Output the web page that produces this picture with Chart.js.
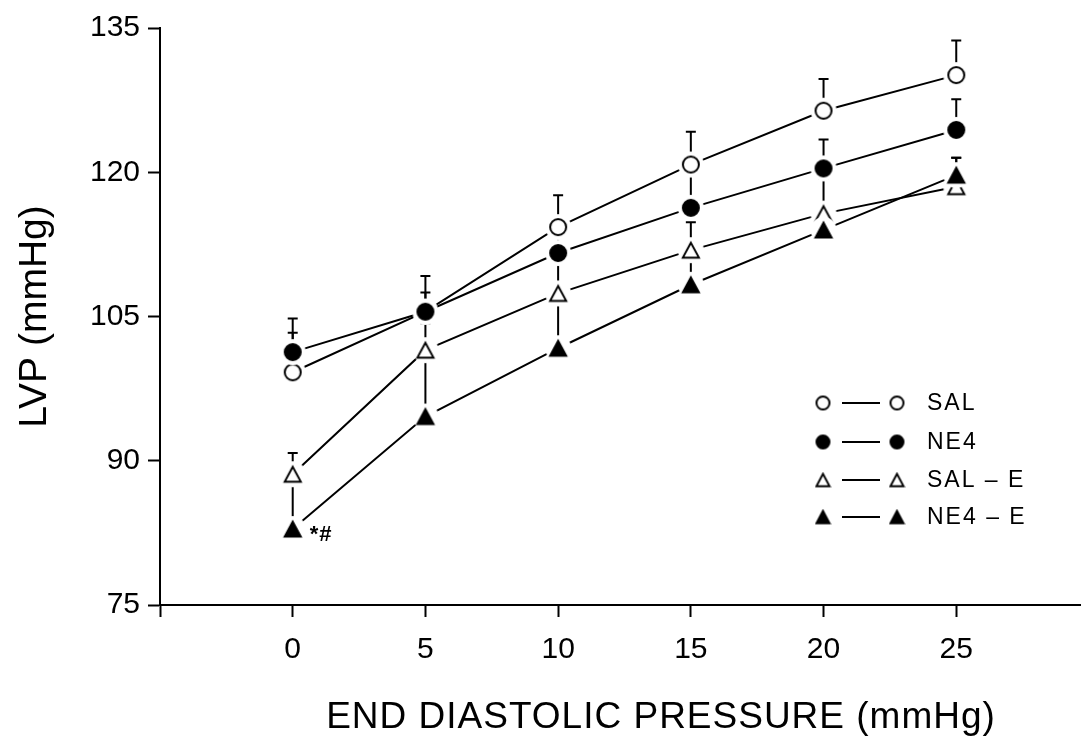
<!DOCTYPE html>
<html>
<head>
<meta charset="utf-8">
<script src="https://cdn.jsdelivr.net/npm/chart.js@4.4.1/dist/chart.umd.min.js"></script>
<style>
  html, body { margin: 0; padding: 0; background: #fff; }
  canvas { display: block; }
</style>
</head>
<body>
<canvas id="lvpChart" width="1081" height="740"></canvas>
<script>
// ── data ─────────────────────────────────────────────────────
const pressures = [0, 5, 10, 15, 20, 25];

const salMean   = [99.2, 105.5, 114.3, 120.8, 126.4, 130.1];
const salUpper  = [103.3, 107.5, 117.6, 124.2, 129.7, 133.7];

const ne4Mean   = [101.3, 105.5, 111.6, 116.3, 120.4, 124.4];
const ne4Upper  = [104.8, 109.2, 113.5, 119.8, 123.4, 127.6];

const salEMean  = [88.6, 101.5, 107.4, 111.9, 115.7, 118.5];
const salEUpper = [90.8, 104.3, 110.8, 114.8, 119.3, 121.5];

const ne4EMean  = [82.9, 94.6, 101.7, 108.3, 114.0, 119.7];
const ne4EUpper = [88.4, 100.8, 107.0, 111.5, 115.5, 121.5];

const yTicks = [75, 90, 105, 120, 135];
const xTitle = 'END DIASTOLIC PRESSURE (mmHg)';

const FONT = "'Liberation Sans', Arial, sans-serif";

// ── marker images (white halo leaves the gap seen in the print) ──
function marker(shape, filled, size, halo) {
  const r = size / 2, R = r + halo;
  const d = Math.ceil(2 * R + 2);
  const c = document.createElement('canvas');
  c.width = c.height = d;
  const g = c.getContext('2d');
  const m = d / 2;
  if (halo) {
    g.fillStyle = '#fff';
    g.beginPath(); g.arc(m, m, R, 0, Math.PI * 2); g.fill();
  }
  g.lineWidth = 2;
  g.strokeStyle = '#000';
  g.fillStyle = filled ? '#000' : '#fff';
  g.beginPath();
  if (shape === 'circle') {
    g.arc(m, m, r - 1, 0, Math.PI * 2);
  } else {
    const h = size * 0.82;
    g.moveTo(m, m - h / 2);
    g.lineTo(m + r - 1, m + h / 2);
    g.lineTo(m - r + 1, m + h / 2);
    g.closePath();
  }
  g.fill();
  g.stroke();
  return c;
}

const series = [
  { label: 'SAL',   key: 'SAL',     mean: salMean,  upper: salUpper,  shape: 'circle',   filled: false, order: 3 },
  { label: 'NE4',   key: 'NE4',     mean: ne4Mean,  upper: ne4Upper,  shape: 'circle',   filled: true,  order: 1 },
  { label: 'SAL-E', key: 'SAL – E', mean: salEMean, upper: salEUpper, shape: 'triangle', filled: false, order: 2 },
  { label: 'NE4-E', key: 'NE4 – E', mean: ne4EMean, upper: ne4EUpper, shape: 'triangle', filled: true,  order: 0 },
];

const datasets = series.map(s => ({
  label: s.label,
  keyText: s.key,
  data: pressures.map((p, i) => ({ x: p, y: s.mean[i] })),
  upper: s.upper,
  order: s.order,
  borderColor: '#000',
  borderWidth: 2,
  pointStyle: marker(s.shape, s.filled, 18, 4),
  legendIcon: marker(s.shape, s.filled, 15, 0),
  pointRadius: 9,
  tension: 0,
  fill: false,
}));

// ── plugins ──────────────────────────────────────────────────
const errorBars = {
  id: 'errorBars',
  beforeDatasetsDraw(chart) {
    const { ctx, scales: { x, y } } = chart;
    ctx.save();
    ctx.strokeStyle = '#000';
    ctx.lineWidth = 2;
    chart.data.datasets.forEach(ds => {
      ds.upper.forEach((u, i) => {
        const px = x.getPixelForValue(ds.data[i].x);
        const y0 = y.getPixelForValue(ds.data[i].y);
        const y1 = y.getPixelForValue(u);
        ctx.beginPath();
        ctx.moveTo(px, y0); ctx.lineTo(px, y1);
        ctx.moveTo(px - 5, y1); ctx.lineTo(px + 5, y1);
        ctx.stroke();
      });
    });
    ctx.restore();
  }
};

const keyAndNotes = {
  id: 'keyAndNotes',
  afterDraw(chart) {
    const { ctx, scales: { x, y } } = chart;
    ctx.save();
    ctx.fillStyle = '#000';
    ctx.strokeStyle = '#000';
    ctx.lineWidth = 2;
    ctx.textBaseline = 'middle';

    // key, lower right
    ctx.font = `23px ${FONT}`;
    ctx.letterSpacing = '2px';
    const rows = [403, 442, 480, 517];
    chart.data.datasets.forEach((ds, i) => {
      const ry = rows[i], img = ds.legendIcon;
      ctx.drawImage(img, 823 - img.width / 2, ry - img.height / 2);
      ctx.drawImage(img, 897 - img.width / 2, ry - img.height / 2);
      ctx.beginPath(); ctx.moveTo(842, ry); ctx.lineTo(880, ry); ctx.stroke();
      ctx.fillText(ds.keyText, 927, ry + 1);
    });

    // significance marks next to NE4-E at 0 mmHg
    ctx.letterSpacing = '1px';
    const ne4e = chart.data.datasets[3].data[0];
    ctx.font = `bold 22px ${FONT}`;
    ctx.fillText('*#', x.getPixelForValue(ne4e.x) + 17, y.getPixelForValue(ne4e.y) + 6);

    // x axis title
    ctx.font = `37px ${FONT}`;
    ctx.textAlign = 'center';
    ctx.fillText(xTitle, 661, 718);
    ctx.restore();
  }
};

new Chart(document.getElementById('lvpChart'), {
  type: 'line',
  data: { datasets },
  plugins: [errorBars, keyAndNotes],
  options: {
    responsive: false,
    animation: false,
    devicePixelRatio: 1,
    layout: { autoPadding: false, padding: { top: 28, right: 0, left: 0, bottom: 0 } },
    plugins: { legend: { display: false }, tooltip: { enabled: false } },
    scales: {
      x: {
        type: 'linear',
        min: -5,
        max: 29.7,
        afterFit: s => { s.height = 135; s.paddingRight = 0; s.paddingLeft = 0; },
        border: { color: '#000', width: 2 },
        grid: { drawOnChartArea: false, drawTicks: true, tickLength: 12, tickWidth: 2, tickColor: '#000' },
        ticks: {
          stepSize: 5,
          includeBounds: false,
          color: '#000',
          padding: 15,
          maxRotation: 0,
          font: { family: FONT, size: 30 },
          callback: v => (v < 0 ? '' : v),
        },
      },
      y: {
        type: 'linear',
        min: 75,
        max: 135,
        afterFit: s => { s.width = 160; },
        afterBuildTicks: s => { s.ticks = yTicks.map(v => ({ value: v })); },
        border: { color: '#000', width: 2 },
        grid: { drawOnChartArea: false, drawTicks: true, tickLength: 12, tickWidth: 2, tickColor: '#000' },
        ticks: {
          color: '#000',
          padding: 8,
          font: { family: FONT, size: 30 },
        },
        title: {
          display: true,
          text: 'LVP (mmHg)',
          color: '#000',
          font: { family: FONT, size: 39 },
          padding: { top: 12, bottom: 0 },
        },
      },
    },
  },
});
</script>
</body>
</html>
